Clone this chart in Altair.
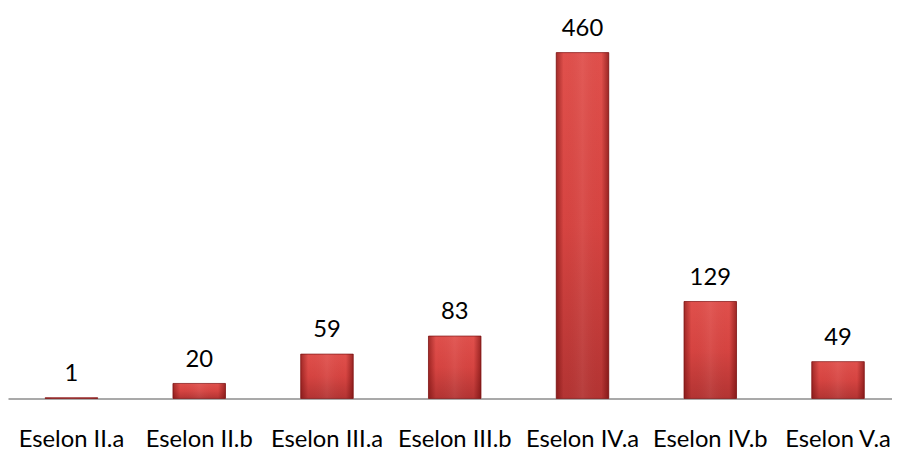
import altair as alt
import pandas as pd

categories = ["Eselon II.a", "Eselon II.b", "Eselon III.a", "Eselon III.b",
              "Eselon IV.a", "Eselon IV.b", "Eselon V.a"]
values = [1, 20, 59, 83, 460, 129, 49]

df = pd.DataFrame({"cat": categories, "val": values})

FONT = "Lato"
FS = 24

x_enc = alt.X(
    "cat:N", sort=categories, title=None,
    scale=alt.Scale(paddingInner=0.589, paddingOuter=0.254, align=0.573),
    axis=alt.Axis(labelAngle=0, ticks=False, tickSize=0, grid=False,
                  domainColor="#8c8c8c", domainWidth=1.5,
                  labelFont=FONT, labelFontSize=FS, labelColor="#000000",
                  labelBaseline="alphabetic", labelPadding=48,
                  labelOverlap=False, labelBound=False, labelFlush=False),
)
y_enc = alt.Y("val:Q", scale=alt.Scale(domain=[0, 516.7]), axis=None)

base = alt.Chart(df).encode(x=x_enc, y=y_enc)

bars = base.mark_bar(
    stroke="#8a1f1f", strokeWidth=0.8,
    color=alt.Gradient(
        gradient="linear", x1=0, x2=0, y1=0, y2=1,
        stops=[alt.GradientStop(color="#e0504c", offset=0),
               alt.GradientStop(color="#d64441", offset=0.5),
               alt.GradientStop(color="#b33433", offset=1)],
    ),
)

sides = base.mark_bar(
    color=alt.Gradient(
        gradient="linear", x1=0, x2=1, y1=0, y2=0,
        stops=[alt.GradientStop(color="rgba(90,0,0,0.45)", offset=0),
               alt.GradientStop(color="rgba(90,0,0,0.0)", offset=0.14),
               alt.GradientStop(color="rgba(255,255,255,0.06)", offset=0.5),
               alt.GradientStop(color="rgba(90,0,0,0.0)", offset=0.86),
               alt.GradientStop(color="rgba(90,0,0,0.5)", offset=1)],
    ),
)

labels = base.mark_text(
    dy=-17, baseline="alphabetic", align="center",
    font=FONT, fontSize=FS, color="#000000",
).encode(text=alt.Text("val:Q"))

chart = (
    alt.layer(bars, sides, labels)
    .properties(width=892, height=392, autosize="none",
                padding={"left": 0, "top": 0, "right": 0, "bottom": 52},
                background="#ffffff")
    .configure_view(stroke=None)
)

chart.save("out.html", embed_options={"renderer": "svg", "actions": False})
